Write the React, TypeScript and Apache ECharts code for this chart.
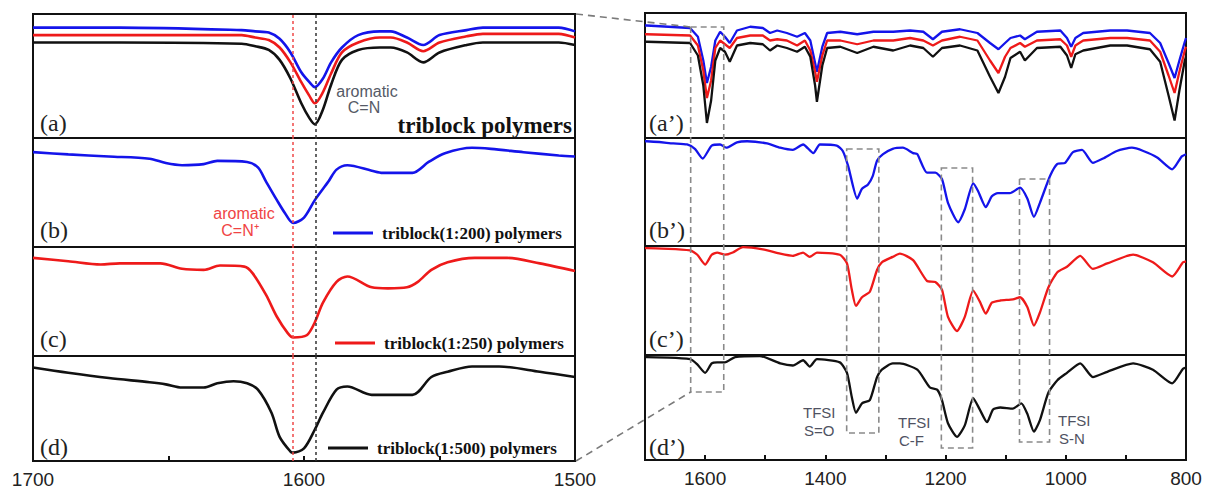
import React, { useEffect, useRef } from "react";
import * as echarts from "echarts";

// ---------- Left column (1700–1500 cm-1) ----------
const W_A = [1700, 1668, 1623, 1618, 1613, 1609, 1605, 1601, 1598, 1596, 1593, 1590, 1586, 1580, 1572, 1568, 1562, 1556, 1550, 1540, 1534, 1506, 1500];
const BLUE_A = [89, 89, 87, 86, 85, 80, 69, 53, 45, 41, 48, 61, 73, 83, 86, 86, 81, 75, 83, 87, 89, 89, 86];
const RED_A = [83, 83, 83, 81, 79, 73, 61, 45, 34, 28, 37, 52, 69, 77, 81, 81, 77, 70, 77, 82, 84, 84, 81];
const BLACK_A = [77, 77, 76, 74, 71, 63, 48, 28, 16, 11, 23, 43, 63, 71, 73, 73, 69, 61, 69, 75, 77, 77, 75];

const W_B = [1700, 1687, 1672, 1657, 1651, 1645, 1637, 1632, 1621, 1617, 1614, 1610, 1607, 1604, 1600, 1596, 1591, 1588, 1584, 1575, 1571, 1560, 1554, 1548, 1538, 1531, 1519, 1506, 1500];
const BLUE_B = [87, 85, 83, 81, 77, 75, 76, 79, 78, 73, 60, 43, 31, 22, 27, 43, 60, 71, 75, 70, 68, 68, 78, 86, 91, 90, 87, 84, 83];

const W_C = [1700, 1687, 1675, 1668, 1653, 1645, 1637, 1631, 1622, 1619, 1614, 1610, 1606, 1604, 1599, 1596, 1593, 1588, 1584, 1575, 1569, 1562, 1558, 1553, 1547, 1537, 1525, 1513, 1500];
const RED_C = [90, 87, 84, 85, 85, 80, 79, 83, 82, 76, 56, 36, 21, 17, 19, 31, 49, 68, 73, 63, 62, 63, 68, 79, 86, 90, 90, 85, 78];

const W_D = [1700, 1687, 1672, 1657, 1651, 1645, 1637, 1632, 1626, 1621, 1617, 1612, 1609, 1605, 1604, 1600, 1596, 1593, 1588, 1584, 1575, 1560, 1553, 1547, 1538, 1528, 1513, 1500];
const BLACK_D = [89, 84, 79, 75, 73, 70, 70, 74, 76, 74, 68, 46, 23, 9, 8, 12, 30, 46, 68, 71, 63, 63, 80, 85, 90, 90, 85, 80];

// ---------- Right column (1700–800 cm-1) ----------
const W_A2 = [1700, 1697, 1625, 1612, 1603, 1597, 1590, 1583, 1575, 1567, 1559, 1547, 1525, 1504, 1492, 1480, 1464, 1447, 1434, 1425, 1417, 1414, 1405, 1397, 1375, 1347, 1320, 1287, 1259, 1237, 1221, 1206, 1176, 1147, 1126, 1112, 1101, 1092, 1076, 1068, 1048, 1009, 998, 991, 984, 971, 926, 898, 860, 843, 829, 819, 811, 802, 800];
const BLUE_A2 = [90, 90, 88, 81, 62, 44, 57, 78, 85, 81, 76, 86, 89, 88, 84, 86, 84, 81, 84, 78, 60, 53, 73, 84, 85, 83, 85, 85, 86, 85, 79, 85, 87, 84, 76, 71, 76, 80, 82, 79, 85, 86, 80, 73, 80, 84, 86, 86, 84, 76, 60, 48, 62, 77, 80];
const RED_A2 = [83, 83, 82, 74, 54, 32, 46, 72, 78, 75, 72, 80, 82, 82, 78, 79, 78, 74, 78, 70, 53, 45, 66, 78, 78, 75, 78, 78, 80, 78, 74, 78, 81, 78, 62, 52, 65, 72, 76, 73, 78, 79, 74, 65, 74, 78, 80, 80, 78, 69, 50, 36, 53, 70, 73];
const BLACK_A2 = [77, 77, 76, 66, 42, 12, 30, 62, 72, 69, 61, 74, 76, 75, 70, 74, 72, 69, 73, 65, 42, 29, 58, 72, 73, 68, 73, 70, 74, 72, 65, 72, 74, 70, 49, 36, 49, 64, 69, 62, 72, 73, 66, 56, 67, 70, 74, 74, 71, 61, 34, 14, 38, 62, 65];

const W_B2 = [1700, 1697, 1653, 1630, 1617, 1604, 1589, 1575, 1565, 1547, 1530, 1497, 1475, 1454, 1437, 1420, 1409, 1381, 1371, 1362, 1347, 1339, 1329, 1321, 1314, 1304, 1288, 1271, 1254, 1247, 1231, 1217, 1206, 1196, 1179, 1168, 1154, 1146, 1133, 1123, 1113, 1093, 1076, 1064, 1053, 1043, 1026, 1014, 1001, 988, 973, 955, 938, 915, 890, 871, 848, 823, 807, 800];
const BLUE_B2 = [97, 97, 95, 94, 90, 81, 93, 94, 91, 96, 97, 95, 91, 89, 94, 86, 94, 93, 88, 74, 44, 53, 57, 65, 79, 85, 90, 91, 86, 85, 68, 68, 62, 40, 22, 34, 58, 51, 36, 46, 49, 49, 54, 44, 27, 40, 65, 76, 77, 87, 89, 77, 81, 88, 91, 88, 82, 71, 83, 85];

const W_C2 = [1700, 1697, 1625, 1613, 1600, 1589, 1580, 1567, 1554, 1537, 1504, 1475, 1454, 1437, 1426, 1414, 1376, 1364, 1356, 1349, 1339, 1326, 1314, 1306, 1288, 1276, 1254, 1231, 1217, 1206, 1196, 1181, 1168, 1154, 1143, 1133, 1123, 1109, 1088, 1076, 1064, 1053, 1043, 1029, 1014, 998, 976, 955, 931, 888, 855, 823, 805, 800];
const RED_C2 = [98, 98, 96, 92, 83, 92, 94, 92, 94, 99, 97, 93, 91, 94, 90, 94, 92, 84, 60, 45, 53, 58, 78, 85, 90, 93, 87, 68, 67, 60, 35, 22, 35, 59, 49, 38, 48, 50, 51, 53, 44, 27, 39, 62, 76, 81, 91, 79, 84, 92, 85, 72, 85, 86];

const W_D2 = [1700, 1697, 1625, 1613, 1600, 1589, 1580, 1567, 1550, 1509, 1475, 1454, 1437, 1426, 1414, 1376, 1364, 1356, 1349, 1339, 1326, 1314, 1306, 1288, 1276, 1247, 1226, 1214, 1206, 1196, 1181, 1168, 1154, 1143, 1131, 1121, 1109, 1088, 1074, 1064, 1053, 1043, 1029, 1014, 998, 976, 955, 931, 888, 855, 823, 805, 800];
const BLACK_D2 = [98, 98, 96, 91, 83, 92, 93, 93, 98, 99, 92, 90, 95, 89, 96, 93, 83, 60, 45, 54, 57, 79, 86, 92, 92, 86, 69, 67, 57, 35, 22, 33, 59, 48, 36, 48, 50, 49, 54, 44, 27, 38, 64, 76, 83, 92, 79, 84, 92, 86, 73, 87, 88];

// Annotation wavenumbers
const MARK_CN_PLUS = 1604;
const MARK_CN = 1595.5;
const BOX_1600 = [1624, 1569];
const BOX_SO = [1364.5, 1311];
const BOX_CF = [1207, 1155];
const BOX_SN = [1077, 1027];

const LEFT_LABELS = ["(a)", "(b)", "(c)", "(d)"];
const RIGHT_LABELS = ["(a\u2019)", "(b\u2019)", "(c\u2019)", "(d\u2019)"];
const LEGEND_NAMES = ["triblock(1:200) polymers", "triblock(1:250) polymers", "triblock(1:500) polymers"];

const BLUE = "#1414ea";
const RED = "#ee1a1a";
const BLACK = "#111111";
const SERIF = "Liberation Serif";
const SANS = "Liberation Sans";

function zip(w: number[], v: number[]) {
  return w.map((x, i) => [x, v[i]]);
}

export default function App() {
  const ref = useRef<HTMLDivElement>(null);

  useEffect(() => {
    const chart = echarts.init(ref.current!, null, { renderer: "svg" });

    const gridBox = [
      { left: 33, top: 14, width: 542, height: 124 },
      { left: 33, top: 138, width: 542, height: 109 },
      { left: 33, top: 247, width: 542, height: 109 },
      { left: 33, top: 356, width: 542, height: 105 },
      { left: 645, top: 13, width: 541, height: 125 },
      { left: 645, top: 138, width: 541, height: 108 },
      { left: 645, top: 246, width: 541, height: 109 },
      { left: 645, top: 355, width: 541, height: 105 },
    ];
    const grid = gridBox.map((g) => ({
      ...g,
      show: true,
      borderColor: "#111",
      borderWidth: 2,
      backgroundColor: "transparent",
      containLabel: false,
    }));

    const xAxis = gridBox.map((_, i) => {
      const leftCol = i < 4;
      const bottom = i === 3 || i === 7;
      return {
        type: "value",
        gridIndex: i,
        min: leftCol ? 1500 : 800,
        max: 1700,
        interval: leftCol ? 50 : 100,
        inverse: true,
        axisLine: { show: false },
        splitLine: { show: false },
        axisTick: { show: bottom, inside: true, length: 5, lineStyle: { color: "#111", width: 2 } },
        axisLabel: {
          show: bottom,
          margin: 9,
          fontFamily: SANS,
          fontSize: 19,
          color: "#222",
          showMinLabel: true,
          showMaxLabel: true,
          formatter: (v: number) => ((leftCol ? v % 100 === 0 : v % 200 === 0) ? String(v) : ""),
        },
      };
    });
    const yAxis = gridBox.map((_, i) => ({ type: "value", gridIndex: i, min: 0, max: 100, show: false }));

    const dashMarks = {
      symbol: ["none", "none"],
      silent: true,
      label: { show: false },
      emphasis: { disabled: true },
      data: [
        { xAxis: MARK_CN_PLUS, lineStyle: { color: "#f04848", type: [3, 3], width: 1.5 } },
        { xAxis: MARK_CN, lineStyle: { color: "#333", type: [3, 3], width: 1.5 } },
      ],
    };

    const line = (name: string, idx: number, w: number[], v: number[], color: string, width: number, smooth: number, marks?: boolean) => ({
      name,
      type: "line",
      xAxisIndex: idx,
      yAxisIndex: idx,
      data: zip(w, v),
      symbol: "none",
      smooth,
      lineStyle: { color, width },
      itemStyle: { color },
      z: 3,
      ...(marks ? { markLine: dashMarks } : {}),
    });

    const series = [
      line("a-blue", 0, W_A, BLUE_A, BLUE, 2.6, 0.3, true),
      line("a-red", 0, W_A, RED_A, RED, 2.6, 0.3),
      line("a-black", 0, W_A, BLACK_A, BLACK, 2.6, 0.3),
      line(LEGEND_NAMES[0], 1, W_B, BLUE_B, BLUE, 2.6, 0.3, true),
      line(LEGEND_NAMES[1], 2, W_C, RED_C, RED, 2.6, 0.3, true),
      line(LEGEND_NAMES[2], 3, W_D, BLACK_D, BLACK, 2.6, 0.3, true),
      line("a2-blue", 4, W_A2, BLUE_A2, BLUE, 2.3, 0),
      line("a2-red", 4, W_A2, RED_A2, RED, 2.3, 0),
      line("a2-black", 4, W_A2, BLACK_A2, BLACK, 2.3, 0),
      line("b2-blue", 5, W_B2, BLUE_B2, BLUE, 2.3, 0.2),
      line("c2-red", 6, W_C2, RED_C2, RED, 2.3, 0.2),
      line("d2-black", 7, W_D2, BLACK_D2, BLACK, 2.3, 0.2),
    ];

    const legendTops = [223, 333, 438];
    const legendLefts = [333, 335, 328];
    const legend = LEGEND_NAMES.map((n, i) => ({
      data: [n],
      left: legendLefts[i],
      top: legendTops[i],
      padding: 0,
      icon: "rect",
      itemWidth: 40,
      itemHeight: 3,
      selectedMode: false,
      textStyle: { fontFamily: SERIF, fontWeight: "bold", fontSize: 17, color: "#111", padding: [0, 0, 0, 4], lineHeight: 20 },
    }));

    chart.setOption({
      animation: false,
      backgroundColor: "#fff",
      grid,
      xAxis,
      yAxis,
      legend,
      series,
    });

    const toX = (w: number) => chart.convertToPixel({ xAxisIndex: 4 }, w) as number;

    const txt = (text: string, x: number, y: number, opts: any = {}) => ({
      type: "text",
      silent: true,
      z: 10,
      style: {
        text,
        x,
        y,
        fill: opts.fill || "#222",
        fontSize: opts.fontSize || 16,
        fontFamily: opts.fontFamily || SANS,
        fontWeight: opts.fontWeight || "normal",
        align: opts.align || "left",
        verticalAlign: "middle",
        textAlign: opts.align || "left",
        textVerticalAlign: "middle",
      },
    });

    const box = (b: number[], yTop: number, yBot: number) => {
      const x1 = toX(b[0]);
      const x2 = toX(b[1]);
      return {
        type: "rect",
        silent: true,
        z: 5,
        shape: { x: x1, y: yTop, width: x2 - x1, height: yBot - yTop },
        style: { fill: "none", stroke: "#8a8a8a", lineWidth: 1.6, lineDash: [6, 4] },
      };
    };

    const bx1 = toX(BOX_1600[0]);
    const leftY = [123, 230, 339, 447];

    const graphic: any[] = [
      box(BOX_1600, 27, 392),
      box(BOX_SO, 149, 433),
      box(BOX_CF, 168, 448),
      box(BOX_SN, 179, 442),
      {
        type: "line",
        silent: true,
        z: 5,
        shape: { x1: 576, y1: 14, x2: bx1, y2: 27 },
        style: { stroke: "#7a7a7a", lineWidth: 1.6, lineDash: [7, 5] },
      },
      {
        type: "line",
        silent: true,
        z: 5,
        shape: { x1: 576, y1: 461, x2: bx1, y2: 392 },
        style: { stroke: "#7a7a7a", lineWidth: 1.6, lineDash: [7, 5] },
      },
      ...LEFT_LABELS.map((t, i) => txt(t, 40, leftY[i], { fontFamily: SERIF, fontSize: 24, fill: "#222" })),
      ...RIGHT_LABELS.map((t, i) => txt(t, 649, leftY[i], { fontFamily: SERIF, fontSize: 24, fill: "#222" })),
      txt("triblock polymers", 572, 125, { fontFamily: SERIF, fontSize: 23, fontWeight: "bold", fill: "#111", align: "right" }),
      txt("aromatic", 367, 91, { fontSize: 16, fill: "#555a66", align: "center" }),
      txt("C=N", 364, 107, { fontSize: 16, fill: "#555a66", align: "center" }),
      txt("aromatic", 244, 213, { fontSize: 16, fill: "#f04444", align: "center" }),
      txt("C=N\u207A", 240, 230, { fontSize: 16, fill: "#f04444", align: "center" }),
      txt("TFSI", 803, 412, { fontSize: 15, fill: "#4f5262" }),
      txt("S=O", 804, 430, { fontSize: 15, fill: "#4f5262" }),
      txt("TFSI", 898, 422, { fontSize: 15, fill: "#4f5262" }),
      txt("C-F", 899, 440, { fontSize: 15, fill: "#4f5262" }),
      txt("TFSI", 1058, 420, { fontSize: 15, fill: "#4f5262" }),
      txt("S-N", 1059, 438, { fontSize: 15, fill: "#4f5262" }),
    ];

    chart.setOption({ graphic });

    return () => {
      chart.dispose();
    };
  }, []);

  return (
    <div
      ref={ref}
      style={{ position: "fixed", left: 0, top: 0, width: 1205, height: 491, background: "#fff" }}
    />
  );
}
